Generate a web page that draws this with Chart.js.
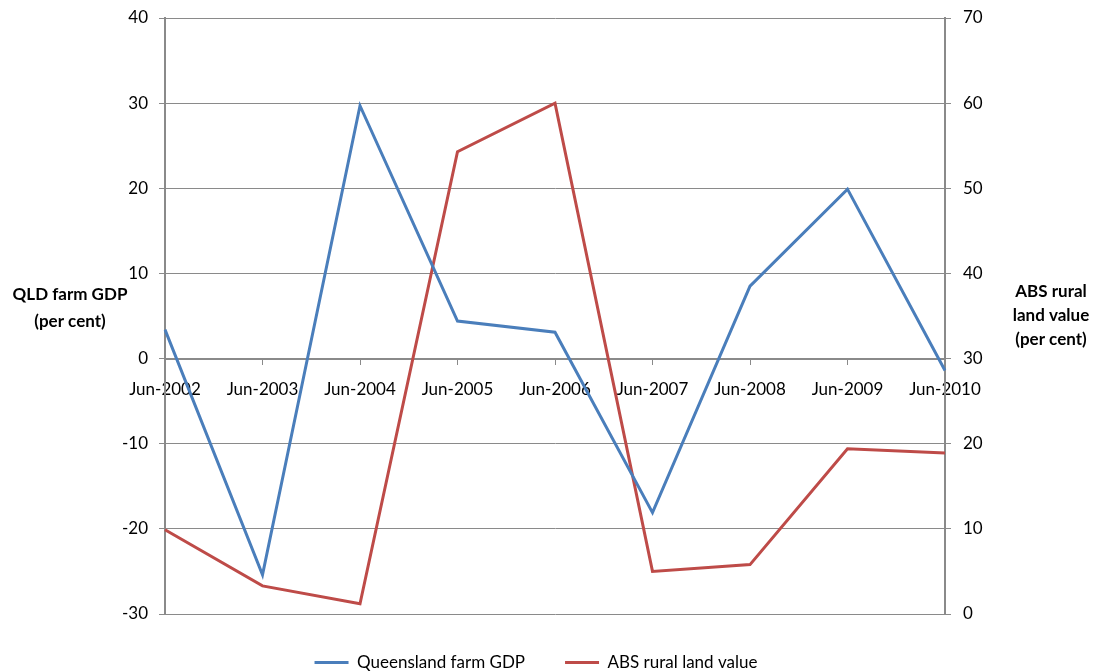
<!DOCTYPE html>
<html>
<head>
<meta charset="utf-8">
<script src="https://cdn.jsdelivr.net/npm/chart.js@4"></script>
<style>
  html, body { margin: 0; padding: 0; background: #fff; }
  #wrap { width: 1098px; height: 671px; position: relative; }
</style>
</head>
<body>
<div id="wrap"><canvas id="chart"></canvas></div>
<script>
const categories = ['Jun-2002', 'Jun-2003', 'Jun-2004', 'Jun-2005', 'Jun-2006', 'Jun-2007', 'Jun-2008', 'Jun-2009', 'Jun-2010'];
const qldFarmGdp = [3.4, -25.4, 29.7, 4.4, 3.1, -18.1, 8.5, 19.9, -1.4];
const absRuralLand = [9.9, 3.3, 1.2, 54.3, 60.0, 5.0, 5.8, 19.4, 18.9];
const leftTitle = ['QLD farm GDP', '(per cent)'];
const rightTitle = ['ABS rural', 'land value', '(per cent)'];

const FONT = 'Lato';
const GREY = '#8a8a8a';

// axis titles sit horizontally beside the axes, Excel style
const sideTitles = {
  id: 'sideTitles',
  afterDraw(chart) {
    const ctx = chart.ctx;
    ctx.save();
    ctx.fillStyle = '#000';
    ctx.font = 'bold 17px ' + FONT;
    ctx.textAlign = 'center';
    ctx.textBaseline = 'middle';
    leftTitle.forEach((t, i) => ctx.fillText(t, 70, 295 + i * 27));
    rightTitle.forEach((t, i) => ctx.fillText(t, 1051, 292 + i * 24));
    ctx.restore();
  }
};

// fixed width, and let the layout padding decide the top edge
function fixAxis(width) {
  return function (scale) {
    scale.width = width;
    scale.paddingTop = 0;
  };
}

const ctx = document.getElementById('chart').getContext('2d');
new Chart(ctx, {
  type: 'line',
  data: {
    labels: categories,
    datasets: [
      {
        label: 'Queensland farm GDP',
        data: qldFarmGdp,
        borderColor: '#4a7ebb',
        backgroundColor: '#4a7ebb',
        borderWidth: 3,
        pointRadius: 0,
        tension: 0,
        yAxisID: 'y'
      },
      {
        label: 'ABS rural land value',
        data: absRuralLand,
        borderColor: '#be4b48',
        backgroundColor: '#be4b48',
        borderWidth: 3,
        pointRadius: 0,
        tension: 0,
        yAxisID: 'y1'
      }
    ]
  },
  options: {
    responsive: true,
    maintainAspectRatio: false,
    animation: false,
    layout: { padding: { top: 18, left: 0, right: 26, bottom: -10 } },
    plugins: {
      tooltip: { enabled: false },
      legend: {
        position: 'bottom',
        labels: {
          usePointStyle: true,
          pointStyle: 'line',
          pointStyleWidth: 34,
          padding: 40,
          color: '#000',
          font: { family: FONT, size: 17 }
        }
      }
    },
    scales: {
      x: {
        position: { y: 0 },
        offset: false,
        grid: { drawOnChartArea: false, drawTicks: true, tickLength: 5, color: GREY },
        border: { display: true, color: GREY, width: 2 },
        ticks: {
          autoSkip: false,
          maxRotation: 0,
          padding: 16,
          color: '#000',
          font: { family: FONT, size: 17 }
        }
      },
      y: {
        position: 'left',
        min: -30,
        max: 40,
        afterFit: fixAxis(165),
        grid: { color: GREY, lineWidth: 1, tickLength: 6 },
        border: { display: true, color: GREY, width: 2 },
        ticks: {
          stepSize: 10,
          padding: 11,
          color: '#000',
          font: { family: FONT, size: 17 }
        }
      },
      y1: {
        position: 'right',
        min: 0,
        max: 70,
        afterFit: fixAxis(127),
        grid: { drawOnChartArea: false, color: GREY, tickLength: 6 },
        border: { display: true, color: GREY, width: 2 },
        ticks: {
          stepSize: 10,
          padding: 12,
          color: '#000',
          font: { family: FONT, size: 17 }
        }
      }
    }
  },
  plugins: [sideTitles]
});
</script>
</body>
</html>
